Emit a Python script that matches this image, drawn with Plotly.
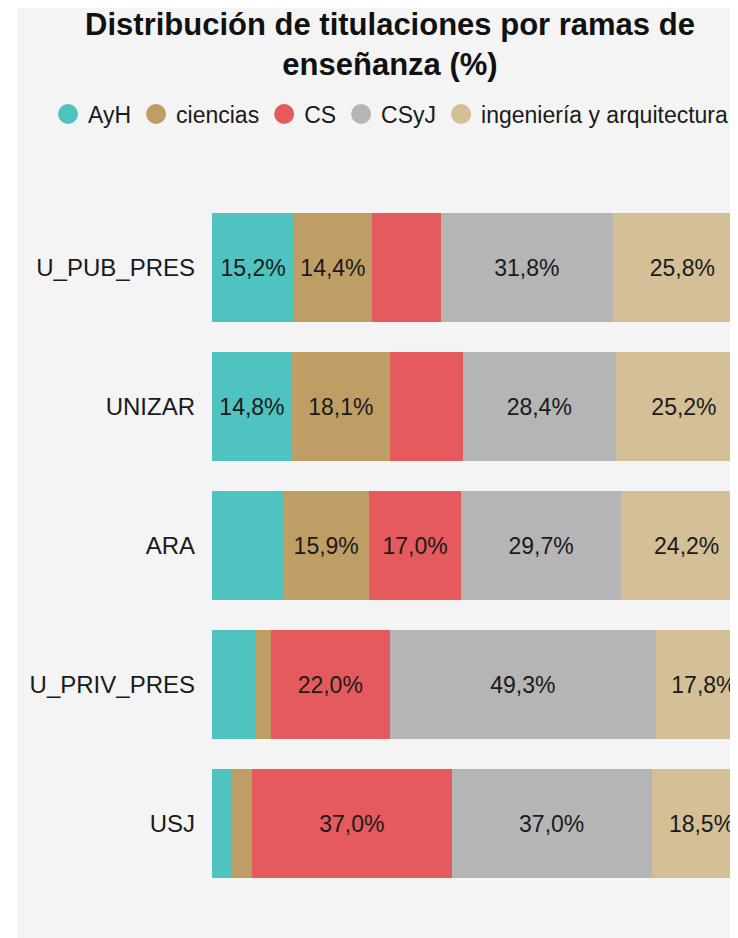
import plotly.graph_objects as go

categories = ["U_PUB_PRES", "UNIZAR", "ARA", "U_PRIV_PRES", "USJ"]
series_names = ["AyH", "ciencias", "CS", "CSyJ", "ingeniería y arquitectura"]
ayh = [15.2, 14.8, 13.2, 8.1, 3.7]
ciencias = [14.4, 18.1, 15.9, 2.8, 3.7]
cs = [12.8, 13.5, 17.0, 22.0, 37.0]
csyj = [31.8, 28.4, 29.7, 49.3, 37.0]
ing = [25.8, 25.2, 24.2, 17.8, 18.5]
colors = ["#4ec3bf", "#bf9e66", "#e55a5c", "#b5b5b5", "#d4bf97"]

values = [ayh, ciencias, cs, csyj, ing]
MIN_LABEL = 14.0

def fmt(v):
    return ("%.1f%%" % v).replace(".", ",") if v >= MIN_LABEL else ""

FONT = "Liberation Sans, Arial, sans-serif"

fig = go.Figure()
for name, vals, col in zip(series_names, values, colors):
    fig.add_trace(go.Bar(
        y=categories, x=vals, name=name, orientation="h",
        marker=dict(color=col, line=dict(width=0)),
        text=[fmt(v) for v in vals], textposition="inside",
        insidetextanchor="middle", constraintext="none",
        textfont=dict(size=23, color="#1a1a1a", family=FONT),
        showlegend=False, hoverinfo="skip",
    ))
for name, col in zip(series_names, colors):
    fig.add_trace(go.Scatter(
        x=[None], y=[None], mode="markers", name=name,
        marker=dict(color=col, size=16, symbol="circle",
                    line=dict(color=col, width=4)),
        showlegend=True,
    ))

W, H = 764, 930
ML, MT, PW, PH = 204, 190, 540, 695
fig.update_layout(
    width=W, height=H,
    barmode="stack", bargap=0.22,
    paper_bgcolor="#f4f4f4", plot_bgcolor="#f4f4f4",
    margin=dict(l=ML, r=W - ML - PW, t=MT, b=H - MT - PH, autoexpand=False),
    font=dict(family=FONT, color="#1a1a1a", size=24),
    title=dict(
        text="<b>Distribución de titulaciones por ramas de<br>enseñanza (%)</b>",
        x=0.5, xanchor="center", xref="container",
        y=1 - 27 / H, yanchor="top", yref="container",
        font=dict(size=31, color="#111111"),
    ),
    legend=dict(
        orientation="h", traceorder="normal",
        x=(40 - ML) / PW, xanchor="left", xref="paper",
        y=1 + (MT - 106) / PH, yanchor="middle", yref="paper",
        font=dict(size=23), itemwidth=30, bgcolor="rgba(0,0,0,0)",
    ),
    xaxis=dict(range=[0, 100], showticklabels=False, showgrid=False,
               zeroline=False, showline=False, fixedrange=True),
    yaxis=dict(autorange="reversed", showgrid=False, zeroline=False,
               showline=False, ticklabelstandoff=16,
               tickfont=dict(size=24)),
    shapes=[dict(type="rect", xref="paper", yref="paper",
                 x0=-(ML + 20) / PW, x1=(9 - ML) / PW, y0=-1, y1=2,
                 fillcolor="white", line=dict(width=0), layer="below")],
)

fig.write_html("out.html")
